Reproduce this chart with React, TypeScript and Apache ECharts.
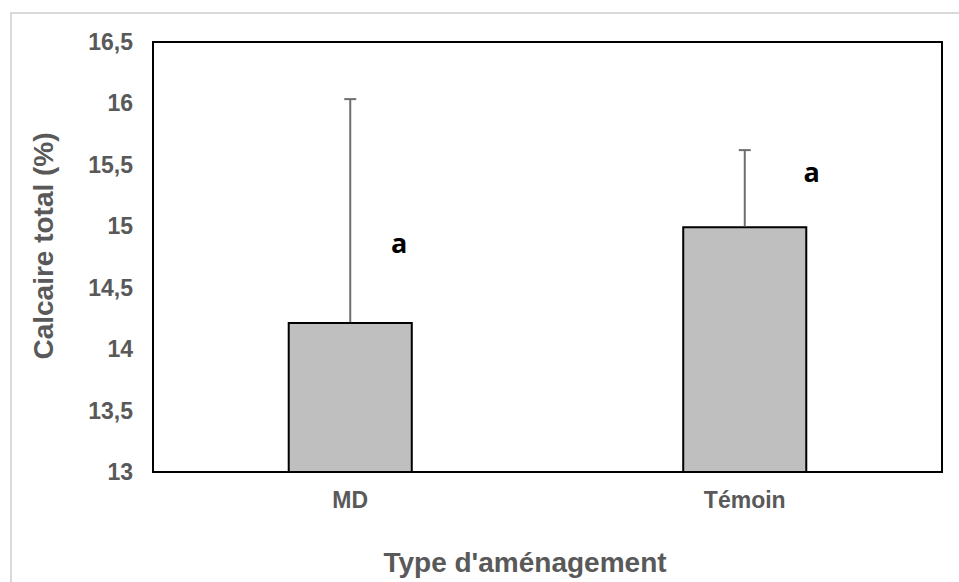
import React, { useEffect, useRef } from "react";
import * as echarts from "echarts";

const categories = ["MD", "Témoin"];
const means = [14.22, 15.0];
const errors = [1.815, 0.62];
const letters = ["a", "a"];
const letterY = [14.87, 15.45];

const yMin = 13;
const yMax = 16.5;
const yStep = 0.5;

const letterOffsetX = [49, 67];
const GRAY_TEXT = "#595959";

export default function App() {
  const ref = useRef<HTMLDivElement>(null);

  useEffect(() => {
    if (!ref.current) return;
    const chart = echarts.init(ref.current, undefined, { renderer: "svg" });
    const errData = categories.map((c, i) => [i, means[i], means[i] + errors[i]]);
    const letterData = categories.map((c, i) => [i, letterY[i], i]);

    chart.setOption({
      animation: false,
      backgroundColor: "#ffffff",
      grid: {
        left: 153,
        top: 42,
        width: 789,
        height: 430,
        show: true,
        borderColor: "#000000",
        borderWidth: 2,
        backgroundColor: "#ffffff",
        containLabel: false,
      },
      xAxis: {
        type: "category",
        data: categories,
        axisLine: { show: true, lineStyle: { color: "#000000", width: 2 } },
        axisTick: { show: false },
        axisLabel: {
          color: GRAY_TEXT,
          fontFamily: "Liberation Sans, Arial, sans-serif",
          fontWeight: "bold",
          fontSize: 23,
          margin: 16,
        },
      },
      yAxis: {
        type: "value",
        min: yMin,
        max: yMax,
        interval: yStep,
        axisLine: { show: true, lineStyle: { color: "#000000", width: 2 } },
        axisTick: { show: false },
        splitLine: { show: false },
        axisLabel: {
          color: GRAY_TEXT,
          fontFamily: "Liberation Sans, Arial, sans-serif",
          fontWeight: "bold",
          fontSize: 23,
          margin: 20,
          formatter: (v: number) => String(v).replace(".", ","),
        },
      },
      graphic: [
        {
          type: "rect",
          z: -10,
          shape: { x: 11, y: 13, width: 1000, height: 1000 },
          style: { fill: "none", stroke: "#d9d9d9", lineWidth: 2 },
          silent: true,
        },
        {
          type: "text",
          x: 43,
          y: 246,
          rotation: Math.PI / 2,
          style: {
            text: "Calcaire total (%)",
            fill: GRAY_TEXT,
            font: "bold 28px 'Liberation Sans', Arial, sans-serif",
            align: "center",
            verticalAlign: "middle",
          },
        },
        {
          type: "text",
          x: 525,
          y: 562,
          style: {
            text: "Type d'aménagement",
            fill: GRAY_TEXT,
            font: "bold 28px 'Liberation Sans', Arial, sans-serif",
            align: "center",
            verticalAlign: "middle",
          },
        },
      ],
      series: [
        {
          type: "bar",
          data: means,
          barWidth: "31.7%",
          itemStyle: { color: "#bfbfbf", borderColor: "#000000", borderWidth: 2 },
          z: 2,
        },
        {
          type: "custom",
          z: 3,
          data: errData,
          renderItem: (params: any, api: any) => {
            const base = api.coord([api.value(0), api.value(1)]);
            const top = api.coord([api.value(0), api.value(2)]);
            const half = 6;
            return {
              type: "group",
              children: [
                {
                  type: "line",
                  shape: { x1: base[0], y1: base[1], x2: top[0], y2: top[1] },
                  style: { stroke: "#6e6e6e", lineWidth: 2 },
                },
                {
                  type: "line",
                  shape: { x1: top[0] - half, y1: top[1], x2: top[0] + half, y2: top[1] },
                  style: { stroke: "#6e6e6e", lineWidth: 2 },
                },
              ],
            };
          },
        },
        {
          type: "custom",
          z: 4,
          data: letterData,
          renderItem: (params: any, api: any) => {
            const p = api.coord([api.value(0), api.value(1)]);
            const idx = api.value(2);
            return {
              type: "text",
              x: p[0] + letterOffsetX[idx],
              y: p[1],
              style: {
                text: letters[idx],
                fill: "#000000",
                font: "bold 27px 'Open Sans', sans-serif",
                align: "center",
                verticalAlign: "middle",
              },
            };
          },
        },
      ],
    });

    return () => chart.dispose();
  }, []);

  return (
    <div
      ref={ref}
      style={{ position: "absolute", left: 0, top: 0, width: 959, height: 582, background: "#ffffff" }}
    />
  );
}
